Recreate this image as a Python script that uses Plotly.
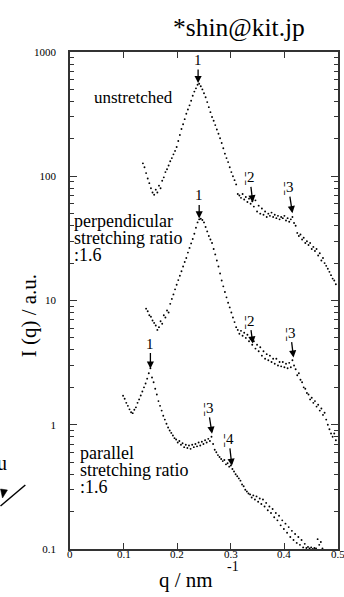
import numpy as np
import plotly.graph_objects as go

# ---------------- data ----------------
q_unstretched = [0.136, 0.139, 0.142, 0.145, 0.148, 0.151, 0.154, 0.157, 0.160, 0.163,
                 0.166, 0.169, 0.172, 0.175, 0.178, 0.181, 0.184, 0.187, 0.190, 0.193,
                 0.196, 0.199, 0.202, 0.205, 0.208, 0.211, 0.214, 0.217, 0.220, 0.223,
                 0.226, 0.229, 0.232, 0.235, 0.238, 0.241, 0.244, 0.247, 0.250, 0.253,
                 0.256, 0.259, 0.262, 0.265, 0.268, 0.271, 0.274, 0.277, 0.280, 0.283,
                 0.286, 0.289, 0.292, 0.295, 0.298, 0.301, 0.304, 0.307, 0.310, 0.313,
                 0.316, 0.319, 0.322, 0.325, 0.328, 0.331, 0.334, 0.337, 0.340, 0.343,
                 0.346, 0.349, 0.352, 0.355, 0.358, 0.361, 0.364, 0.367, 0.370, 0.373,
                 0.376, 0.379, 0.382, 0.385, 0.388, 0.391, 0.394, 0.397, 0.400, 0.403,
                 0.406, 0.409, 0.412, 0.415, 0.418, 0.421, 0.424, 0.427, 0.430, 0.433,
                 0.436, 0.439, 0.442, 0.445, 0.448, 0.451, 0.454, 0.457, 0.460, 0.463,
                 0.466, 0.469, 0.472, 0.475, 0.478, 0.481, 0.484, 0.487, 0.490, 0.493,
                 0.496]
I_unstretched = [127, 118, 106, 96, 88, 80, 74, 71, 78, 74,
                 84, 80, 92, 98, 108, 114, 122, 132, 140, 150,
                 160, 172, 192, 215, 240, 262, 288, 318, 345, 372,
                 405, 445, 480, 510, 545, 555, 530, 500, 465, 432,
                 395, 360, 328, 300, 280, 258, 238, 220, 202, 185,
                 168, 152, 140, 130, 118, 108, 100, 93, 86, 72,
                 70, 67, 72, 65, 68, 62, 66, 60, 63, 57,
                 64, 52, 58, 50, 55, 49, 52, 47, 50, 48,
                 51, 47, 49, 46, 48, 45, 47, 46, 48, 44,
                 46, 43, 45, 47, 42, 40, 35, 33, 34, 31,
                 32, 29, 30, 28, 29, 26, 27, 25, 26, 23,
                 24, 21, 22, 20, 19, 18, 17, 16, 15, 14.5,
                 13.5]

q_perpendicular = [0.142, 0.145, 0.148, 0.151, 0.154, 0.157, 0.160, 0.163, 0.166, 0.169,
                   0.172, 0.175, 0.178, 0.181, 0.184, 0.187, 0.190, 0.193, 0.196, 0.199,
                   0.202, 0.205, 0.208, 0.211, 0.214, 0.217, 0.220, 0.223, 0.226, 0.229,
                   0.232, 0.235, 0.238, 0.241, 0.244, 0.247, 0.250, 0.253, 0.256, 0.259,
                   0.262, 0.265, 0.268, 0.271, 0.274, 0.277, 0.280, 0.283, 0.286, 0.289,
                   0.292, 0.295, 0.298, 0.301, 0.304, 0.307, 0.310, 0.313, 0.316, 0.319,
                   0.322, 0.325, 0.328, 0.331, 0.334, 0.337, 0.340, 0.343, 0.346, 0.349,
                   0.352, 0.355, 0.358, 0.361, 0.364, 0.367, 0.370, 0.373, 0.376, 0.379,
                   0.382, 0.385, 0.388, 0.391, 0.394, 0.397, 0.400, 0.403, 0.406, 0.409,
                   0.412, 0.415, 0.418, 0.421, 0.424, 0.427, 0.430, 0.433, 0.436, 0.439,
                   0.442, 0.445, 0.448, 0.451, 0.454, 0.457, 0.460, 0.463, 0.466, 0.469,
                   0.472, 0.475, 0.478, 0.481, 0.484, 0.487, 0.490, 0.493, 0.496]
I_perpendicular = [8.6, 8.2, 7.6, 7.4, 6.9, 6.6, 6.3, 5.8, 6.1, 6.8,
                   6.5, 7.6, 7.3, 8.3, 8.0, 9.4, 10.3, 11.2, 12.3, 13.4,
                   14.6, 15.8, 17.2, 18.8, 20.4, 22.0, 24.3, 26.5, 28.8, 31.3,
                   34.5, 38.5, 42.5, 45.0, 45.5, 44.5, 42.5, 39.0, 36.0, 33.0,
                   31.0, 29.0, 26.0, 23.5, 21.0, 18.8, 16.5, 14.5, 13.0, 11.7,
                   10.6, 9.6, 8.8, 8.0, 7.3, 6.7, 6.1, 5.8, 5.4, 5.7,
                   5.2, 5.5, 5.0, 5.3, 4.7, 4.9, 4.4, 4.7, 4.1, 4.4,
                   3.9, 4.2, 3.6, 3.9, 3.4, 3.7, 3.3, 3.6, 3.2, 3.4,
                   3.1, 3.4, 3.0, 3.2, 2.95, 3.2, 2.9, 3.1, 2.85, 3.15,
                   2.9, 3.3, 3.0, 2.8, 2.5, 2.6, 2.3, 2.2, 2.0, 1.95,
                   1.8, 1.75, 1.6, 1.65, 1.5, 1.55, 1.4, 1.45, 1.3, 1.35,
                   1.2, 1.25, 1.1, 1.0, 0.92, 0.85, 0.8, 0.85, 0.75]

q_parallel = [0.099, 0.102, 0.105, 0.108, 0.111, 0.114, 0.117, 0.120, 0.123, 0.126,
              0.129, 0.132, 0.135, 0.138, 0.141, 0.144, 0.147, 0.150, 0.153, 0.156,
              0.159, 0.162, 0.165, 0.168, 0.171, 0.174, 0.177, 0.180, 0.183, 0.186,
              0.189, 0.192, 0.195, 0.198, 0.201, 0.204, 0.207, 0.210, 0.213, 0.216,
              0.219, 0.222, 0.225, 0.228, 0.231, 0.234, 0.237, 0.240, 0.243, 0.246,
              0.249, 0.252, 0.255, 0.258, 0.261, 0.264, 0.267, 0.270, 0.273, 0.276,
              0.279, 0.282, 0.285, 0.288, 0.291, 0.294, 0.297, 0.300, 0.303, 0.306,
              0.309, 0.312, 0.315, 0.318, 0.321, 0.324, 0.327, 0.330, 0.333, 0.336,
              0.339, 0.342, 0.345, 0.348, 0.351, 0.354, 0.357, 0.360, 0.363, 0.366,
              0.369, 0.372, 0.375, 0.378, 0.381, 0.384, 0.387, 0.390, 0.393, 0.396,
              0.399, 0.402, 0.405, 0.408, 0.411, 0.414, 0.417, 0.420, 0.423, 0.426,
              0.429, 0.432, 0.435, 0.438, 0.441, 0.444, 0.447, 0.450, 0.453, 0.456,
              0.459, 0.462, 0.465, 0.468, 0.471]
I_parallel = [1.71, 1.62, 1.5, 1.42, 1.33, 1.26, 1.24, 1.32, 1.38, 1.5,
              1.6, 1.72, 1.85, 2.0, 2.15, 2.35, 2.6, 2.85, 2.4, 2.2,
              1.95, 1.75, 1.55, 1.42, 1.3, 1.18, 1.1, 1.02, 0.95, 0.9,
              0.86, 0.82, 0.78, 0.76, 0.72, 0.74, 0.69, 0.71, 0.66, 0.69,
              0.65, 0.68, 0.64, 0.69, 0.66, 0.70, 0.67, 0.72, 0.68, 0.73,
              0.70, 0.75, 0.72, 0.77, 0.74, 0.80, 0.70, 0.63, 0.60, 0.57,
              0.55, 0.53, 0.51, 0.52, 0.48, 0.49, 0.46, 0.47, 0.44, 0.42,
              0.40, 0.385, 0.37, 0.355, 0.33, 0.32, 0.30, 0.29, 0.28, 0.275,
              0.26, 0.27, 0.25, 0.265, 0.24, 0.255, 0.23, 0.25, 0.22, 0.235,
              0.205, 0.22, 0.195, 0.21, 0.18, 0.195, 0.17, 0.185, 0.155, 0.17,
              0.145, 0.16, 0.135, 0.15, 0.125, 0.14, 0.118, 0.132, 0.112, 0.125,
              0.108, 0.118, 0.103, 0.11, 0.102, 0.104, 0.101, 0.103, 0.100, 0.102,
              0.101, 0.12, 0.108, 0.114, 0.101]

# peak markers (arrow tip position and label)
peak_labels = ["1", "¦2", "¦3", "1", "¦2", "¦3", "1", "¦3", "¦4"]
peak_q = [0.239, 0.341, 0.415, 0.241, 0.341, 0.417, 0.150, 0.265, 0.302]
peak_I = [562, 61.6, 50.4, 45.8, 4.5, 3.47, 2.83, 0.845, 0.467]
peak_ax = [0, -3, -4, 0, -3, -3, 0, -4, -3]
peak_ay = [-23, -25, -26, -23, -23, -25, -25, -26, -27]

x_ticks = [0, 0.1, 0.2, 0.3, 0.4, 0.5]
x_ticktext = ["0", "0.1", "0.2", "0.3", "0.4", "0.5"]

# ---------------- figure ----------------
W, H = 344, 597
L, R, T, B = 70, 4, 52, 48
SERIF = "'Liberation Serif', 'Times New Roman', serif"


def px(x):
    return (x - L) / (W - L - R)


def py(y):
    return (H - B - y) / (H - T - B)


fig = go.Figure()
for qs, Is in [(q_unstretched, I_unstretched), (q_perpendicular, I_perpendicular),
               (q_parallel, I_parallel)]:
    fig.add_trace(go.Scatter(x=qs, y=Is, mode="markers",
                             marker=dict(size=1.9, color="black", line=dict(width=0)),
                             showlegend=False, hoverinfo="skip"))

ann = []
for lab, qv, Iv, ax, ay in zip(peak_labels, peak_q, peak_I, peak_ax, peak_ay):
    ann.append(dict(x=qv, y=float(np.log10(Iv)), xref="x", yref="y", text=lab,
                    showarrow=True, arrowhead=2, arrowsize=1.1, arrowwidth=1.3,
                    arrowcolor="black", ax=ax, ay=ay, standoff=0,
                    font=dict(family=SERIF, size=15, color="black")))

# x tick labels placed just under the axis (as in the reference)
for t, s in zip(x_ticks, x_ticktext):
    ann.append(dict(x=t, y=py(554), xref="x", yref="paper", text=s, showarrow=False,
                    xanchor="center", yanchor="middle",
                    font=dict(family=SERIF, size=11, color="black")))


def txt(s, x, y, size, xanchor="left", angle=0, color="black"):
    ann.append(dict(x=px(x), y=py(y), xref="paper", yref="paper", text=s,
                    showarrow=False, xanchor=xanchor, yanchor="middle",
                    textangle=angle, font=dict(family=SERIF, size=size, color=color)))


txt("unstretched", 92, 97, 17)
txt("perpendicular", 72, 221, 18)
txt("stretching ratio", 72, 238, 18)
txt(":1.6", 72, 255, 18)
txt("parallel", 78, 453, 18)
txt("stretching ratio", 78, 470, 18)
txt(":1.6", 78, 487, 18)
txt("*shin@kit.jp", 240, 27, 25.5, xanchor="center")
txt("q / nm", 187, 580, 21, xanchor="center")
txt("-1", 234, 566, 14, xanchor="center")
txt("I (q) / a.u.", 29, 316, 21, xanchor="center", angle=-90)
txt("u", 9, 463, 20, xanchor="right")

shapes = [
    dict(type="line", xref="paper", yref="paper", x0=px(0), y0=py(506), x1=px(25), y1=py(485),
         line=dict(color="black", width=1.5)),
    dict(type="path", xref="paper", yref="paper",
         path=f"M {px(0)} {py(489)} L {px(7)} {py(490)} L {px(2)} {py(498)} Z",
         fillcolor="black", line=dict(color="black", width=0.5)),
]

fig.update_layout(
    width=W, height=H,
    margin=dict(l=L, r=R, t=T, b=B, pad=0),
    paper_bgcolor="white", plot_bgcolor="white",
    annotations=ann, shapes=shapes,
    font=dict(family=SERIF),
    xaxis=dict(range=[0, 0.5], tickvals=x_ticks, showticklabels=False,
               ticks="inside", ticklen=6, tickwidth=1.2, tickcolor="#333",
               mirror="ticks", showline=True, linecolor="#333", linewidth=1.5,
               showgrid=False, zeroline=False),
    yaxis=dict(type="log", range=[-1, 3], dtick=1, exponentformat="none",
               ticks="inside", ticklen=7, tickwidth=1.2, tickcolor="#333",
               mirror="ticks", showline=True, linecolor="#333", linewidth=1.5,
               showgrid=False, zeroline=False, ticklabelstandoff=10,
               minor=dict(dtick="D1", ticks="inside", ticklen=4, tickwidth=1,
                          tickcolor="#333", showgrid=False),
               tickfont=dict(family=SERIF, size=11, color="black")),
)

fig.write_html("out.html")
